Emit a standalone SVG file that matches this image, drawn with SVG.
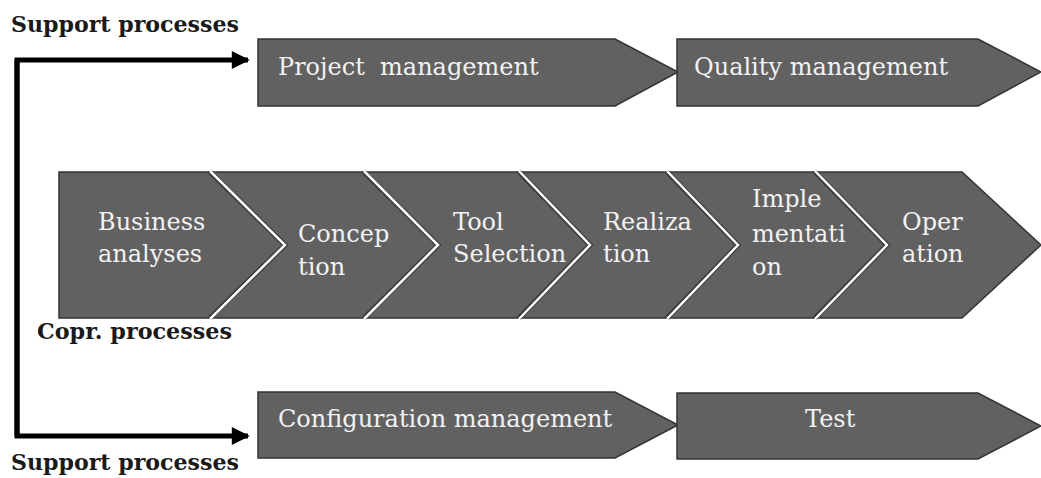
<svg xmlns="http://www.w3.org/2000/svg" width="1041" height="478" viewBox="0 0 1041 478">
  <style>
    .box { fill: #616161; stroke: #333333; stroke-width: 1.5; stroke-linejoin: miter; }
    .sep-dark { fill: none; stroke: #3a3a3a; stroke-width: 5; stroke-linejoin: miter; }
    .sep { fill: none; stroke: #ffffff; stroke-width: 2.5; stroke-linejoin: miter; }
    .lbl { font-family: "DejaVu Serif", "Liberation Serif", serif; font-size: 24px; fill: #f2f2f2; }
    .cap { font-family: "DejaVu Serif", "Liberation Serif", serif; font-size: 22px; font-weight: bold; fill: #1a1a1a; }
    .conn { fill: none; stroke: #000000; stroke-width: 5; stroke-linejoin: miter; }
  </style>
  <defs>
    <marker id="arrow" viewBox="0 0 10 10" refX="9" refY="5" markerWidth="4" markerHeight="3.6" markerUnits="strokeWidth" orient="auto">
      <path d="M0,0 L10,5 L0,10 z" fill="#000000"/>
    </marker>
  </defs>
  <rect width="1041" height="478" fill="#ffffff"/>

  <!-- side labels -->
  <text class="cap" x="11" y="32" textLength="228" lengthAdjust="spacingAndGlyphs">Support processes</text>
  <text class="cap" x="37" y="339" textLength="195" lengthAdjust="spacingAndGlyphs">Copr. processes</text>
  <text class="cap" x="11" y="470" textLength="228" lengthAdjust="spacingAndGlyphs">Support processes</text>

  <!-- connectors -->
  <g id="connectors">
    <path class="conn" d="M17,436 L17,60 L248,60" marker-end="url(#arrow)"/>
    <path class="conn" d="M17,60 L17,436 L248,436" marker-end="url(#arrow)"/>
  </g>

  <!-- support processes, upper row -->
  <g id="project-management">
    <polygon class="box" points="258,39 615,39 678,72 615,106 258,106"/>
    <text class="lbl" x="278" y="75" xml:space="preserve">Project  management</text>
  </g>
  <g id="quality-management">
    <polygon class="box" points="677,39 978,39 1041,72 978,106 677,106"/>
    <text class="lbl" x="694" y="75">Quality management</text>
  </g>

  <!-- core process chain -->
  <g id="business-analyses">
    <polygon class="box" points="59,172 210,172 285,245 210,318 59,318"/>
    <text class="lbl" x="98" y="230">Business</text>
    <text class="lbl" x="98" y="262">analyses</text>
  </g>
  <g id="conception">
    <polygon class="box" points="210,172 364,172 438,245 364,318 210,318 285,245"/>
    <text class="lbl" x="298" y="242">Concep</text>
    <text class="lbl" x="298" y="275">tion</text>
  </g>
  <g id="tool-selection">
    <polygon class="box" points="364,172 519,172 590,245 519,318 364,318 438,245"/>
    <text class="lbl" x="453" y="230">Tool</text>
    <text class="lbl" x="453" y="262">Selection</text>
  </g>
  <g id="realization">
    <polygon class="box" points="519,172 667,172 738,245 667,318 519,318 590,245"/>
    <text class="lbl" x="603" y="230">Realiza</text>
    <text class="lbl" x="603" y="262">tion</text>
  </g>
  <g id="implementation">
    <polygon class="box" points="667,172 815,172 887,245 815,318 667,318 738,245"/>
    <text class="lbl" x="752" y="207">Imple</text>
    <text class="lbl" x="752" y="242">mentati</text>
    <text class="lbl" x="752" y="275">on</text>
  </g>
  <g id="operation">
    <polygon class="box" points="815,172 962,172 1041,245 962,318 815,318 887,245"/>
    <text class="lbl" x="902" y="230">Oper</text>
    <text class="lbl" x="902" y="262">ation</text>
  </g>
  <!-- light seams between the chevrons -->
  <g id="seams">
    <polyline class="sep-dark" points="210,172 285,245 210,318"/>
    <polyline class="sep-dark" points="364,172 438,245 364,318"/>
    <polyline class="sep-dark" points="519,172 590,245 519,318"/>
    <polyline class="sep-dark" points="667,172 738,245 667,318"/>
    <polyline class="sep-dark" points="815,172 887,245 815,318"/>
    <polyline class="sep" points="210,171 285,245 210,319"/>
    <polyline class="sep" points="364,171 438,245 364,319"/>
    <polyline class="sep" points="519,171 590,245 519,319"/>
    <polyline class="sep" points="667,171 738,245 667,319"/>
    <polyline class="sep" points="815,171 887,245 815,319"/>
  </g>

  <!-- support processes, lower row -->
  <g id="configuration-management">
    <polygon class="box" points="258,392 615,392 678,425 615,458 258,458"/>
    <text class="lbl" x="278" y="427">Configuration management</text>
  </g>
  <g id="test">
    <polygon class="box" points="677,393 978,393 1041,426 978,459 677,459"/>
    <text class="lbl" x="805" y="427">Test</text>
  </g>
</svg>
